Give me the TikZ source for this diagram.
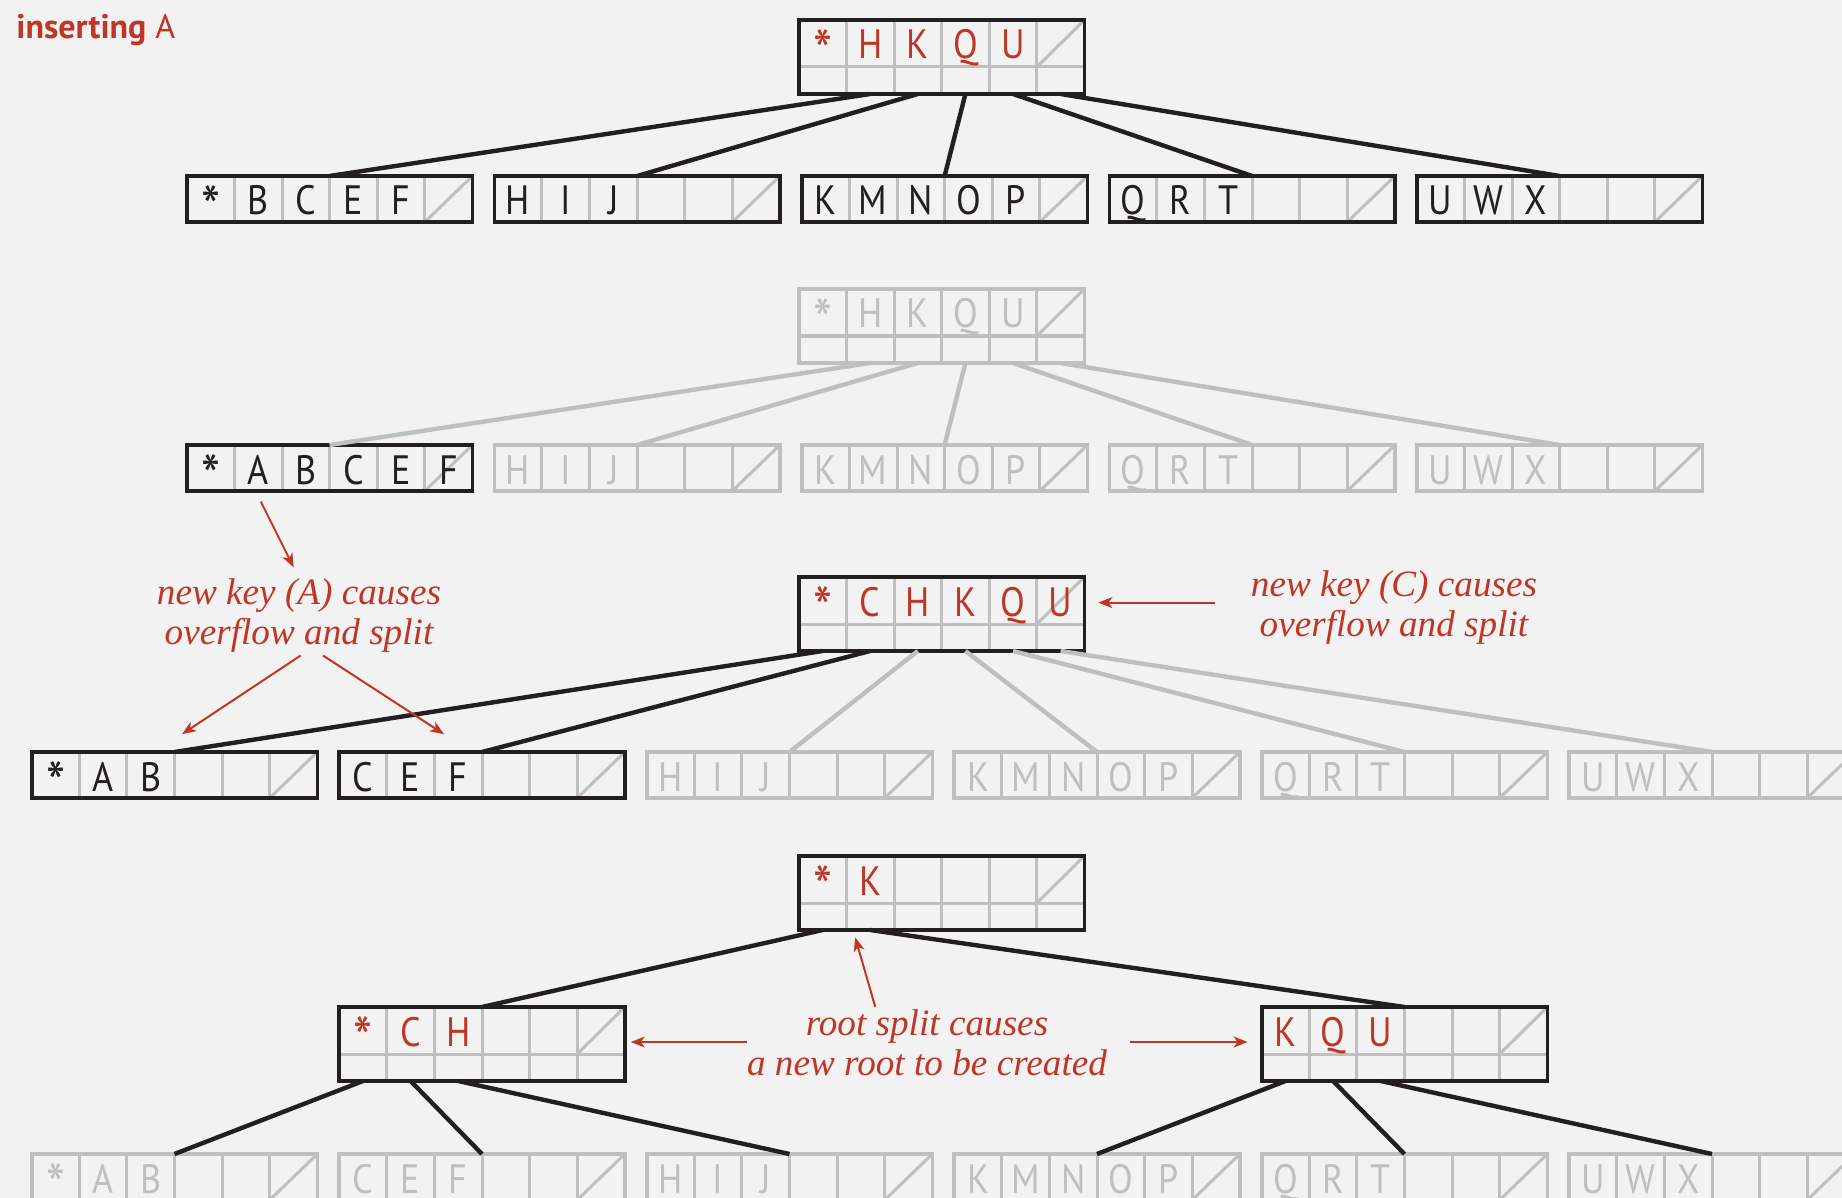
\documentclass[tikz,border=0pt]{standalone}
\usepackage{fontspec}
\usepackage{graphicx}
\setmainfont{Liberation Serif}
\newfontfamily\keyfont[FakeStretch=0.88]{PT Sans}
\newfontfamily\labfont{PT Sans}
\usetikzlibrary{arrows.meta,calc}
\definecolor{bg}{RGB}{242,242,242}
\definecolor{myred}{RGB}{192,54,38}
\definecolor{myblack}{RGB}{35,31,32}
\definecolor{mygrey}{RGB}{190,191,193}
\newcommand\st{\raisebox{-0.36em}{\scalebox{1.5}{*}}}
\tikzset{
  pagebox/.style={draw, line width=1.8pt, inner sep=0pt, outer sep=0pt, minimum width=142.8pt, anchor=north west},
  gridline/.style={draw=mygrey, line width=1.5pt},
  keytext/.style={font=\keyfont\fontsize{20.5}{20.5}\selectfont, inner sep=0pt, anchor=base},
  link/.style={line width=2.2pt},
  blink/.style={link, draw=myblack},
  glink/.style={link, draw=mygrey},
  note/.style={font=\itshape\fontsize{18.6}{20}\selectfont, text=myred, align=center, inner sep=0pt, anchor=base},
  notearrow/.style={draw=myred, line width=1pt, -{Stealth[length=7pt,width=5.5pt,inset=2pt]}}
}
% #1 name, #2 x, #3 y, #4 height px, #5 border colour, #6 text colour, #7 keys
\newcommand\bpage[7]{%
  \node[pagebox, draw=#5, minimum height=#4*0.5pt] (#1) at (#2,#3) {};
  \pgfmathsetmacro\dh{min(#4,47)}%
  \begin{scope}[shift={(#1.north west)}]
    \foreach \i in {1,...,5} \draw[gridline] (\i*47.6,0) -- (\i*47.6,#4);
    \ifnum#4>60 \draw[gridline] (0,47) -- (285.6,47);\fi
    \draw[gridline] (238,\dh) -- (285.6,0);
    \foreach \k [count=\i] in {#7} \node[keytext, text=#6] at ({(\i-0.5)*47.6},39) {\k};
  \end{scope}
  \draw[draw=#5, line width=1.8pt] (#1.north west) rectangle (#1.south east);
  \foreach \i in {1,...,6} \coordinate (#1-\i) at ($(#1.south west)+({(\i-0.5)*47.6},0)$);
}
\begin{document}
\begin{tikzpicture}[x=0.5pt,y=-0.5pt]
\fill[bg] (0,0) rectangle (1842,1198);
\useasboundingbox (0,0) rectangle (1842,1198);
\clip (0,0) rectangle (1842,1198);

\node[anchor=base west, text=myred, font=\labfont\fontsize{17}{17}\selectfont, inner sep=0pt] (title) at (16,39) {\textbf{inserting} A};

% ---- row 1
\bpage{r1}{798.8}{20}{74}{myblack}{myred}{\st,H,K,Q,U}
\bpage{a1}{186.8}{176}{46}{myblack}{myblack}{\st,B,C,E,F}
\bpage{a2}{494.3}{176}{46}{myblack}{myblack}{H,I,J}
\bpage{a3}{801.8}{176}{46}{myblack}{myblack}{K,M,N,O,P}
\bpage{a4}{1109.3}{176}{46}{myblack}{myblack}{Q,R,T}
\bpage{a5}{1416.8}{176}{46}{myblack}{myblack}{U,W,X}
\draw[blink] (r1-2) -- (a1.north);
\draw[blink] (r1-3) -- (a2.north);
\draw[blink] (r1-4) -- (a3.north);
\draw[blink] (r1-5) -- (a4.north);
\draw[blink] (r1-6) -- (a5.north);

% ---- row 2
\bpage{r2}{798.8}{289}{74}{mygrey}{mygrey}{\st,H,K,Q,U}
\bpage{b1}{186.8}{445}{46}{myblack}{myblack}{\st,A,B,C,E,F}
\bpage{b2}{494.3}{445}{46}{mygrey}{mygrey}{H,I,J}
\bpage{b3}{801.8}{445}{46}{mygrey}{mygrey}{K,M,N,O,P}
\bpage{b4}{1109.3}{445}{46}{mygrey}{mygrey}{Q,R,T}
\bpage{b5}{1416.8}{445}{46}{mygrey}{mygrey}{U,W,X}
\draw[glink] (r2-2) -- (b1.north);
\draw[glink] (r2-3) -- (b2.north);
\draw[glink] (r2-4) -- (b3.north);
\draw[glink] (r2-5) -- (b4.north);
\draw[glink] (r2-6) -- (b5.north);

% ---- row 3
\bpage{r3}{798.8}{577}{74}{myblack}{myred}{\st,C,H,K,Q,U}
\bpage{c1}{31.7}{752}{46}{myblack}{myblack}{\st,A,B}
\bpage{c2}{339.2}{752}{46}{myblack}{myblack}{C,E,F}
\bpage{c3}{646.7}{752}{46}{mygrey}{mygrey}{H,I,J}
\bpage{c4}{954.2}{752}{46}{mygrey}{mygrey}{K,M,N,O,P}
\bpage{c5}{1261.7}{752}{46}{mygrey}{mygrey}{Q,R,T}
\bpage{c6}{1569.2}{752}{46}{mygrey}{mygrey}{U,W,X}
\draw[glink] (r3-3) -- (c3.north);
\draw[glink] (r3-4) -- (c4.north);
\draw[glink] (r3-5) -- (c5.north);
\draw[glink] (r3-6) -- (c6.north);
\draw[blink] (r3-1) -- (c1.north);
\draw[blink] (r3-2) -- (c2.north);

% ---- row 4
\bpage{r4}{798.8}{856}{74}{myblack}{myred}{\st,K}
\bpage{m1}{339.2}{1007}{74}{myblack}{myred}{\st,C,H}
\bpage{m2}{1261.7}{1007}{74}{myblack}{myred}{K,Q,U}
\draw[blink] (r4-1) -- (m1.north);
\draw[blink] (r4-2) -- (m2.north);

% ---- row 5
\bpage{d1}{31.7}{1154}{46}{mygrey}{mygrey}{\st,A,B}
\bpage{d2}{339.2}{1154}{46}{mygrey}{mygrey}{C,E,F}
\bpage{d3}{646.7}{1154}{46}{mygrey}{mygrey}{H,I,J}
\bpage{d4}{954.2}{1154}{46}{mygrey}{mygrey}{K,M,N,O,P}
\bpage{d5}{1261.7}{1154}{46}{mygrey}{mygrey}{Q,R,T}
\bpage{d6}{1569.2}{1154}{46}{mygrey}{mygrey}{U,W,X}
\draw[blink] (m1-1) -- (d1.north);
\draw[blink] (m1-2) -- (d2.north);
\draw[blink] (m1-3) -- (d3.north);
\draw[blink] (m2-1) -- (d4.north);
\draw[blink] (m2-2) -- (d5.north);
\draw[blink] (m2-3) -- (d6.north);

% ---- annotations (anchor = baseline of the last line)
\node[note] (n1) at (299,644) {new key (A) causes\\overflow and split};
\node[note] (n2) at (1394,636) {new key (C) causes\\overflow and split};
\node[note] (n3) at (927,1075) {root split causes\\a new root to be created};

\coordinate (p1s) at (260.8,501.6); \coordinate (p1t) at (293.7,567.4);
\coordinate (p2s) at (300.7,655.5); \coordinate (p2t) at (182,734.2);
\coordinate (p3s) at (323,655.5);   \coordinate (p3t) at (444,734.2);
\coordinate (p4s) at (1214.7,602.6); \coordinate (p4t) at (1098.4,602.6);
\coordinate (p5s) at (875.2,1006.7); \coordinate (p5t) at (855.2,937.4);
\coordinate (p6s) at (747.1,1042);  \coordinate (p6t) at (630.8,1042);
\coordinate (p7s) at (1130,1042);   \coordinate (p7t) at (1247.6,1042);
\draw[notearrow] (p1s) -- (p1t);
\draw[notearrow] (p2s) -- (p2t);
\draw[notearrow] (p3s) -- (p3t);
\draw[notearrow] (p4s) -- (p4t);
\draw[notearrow] (p5s) -- (p5t);
\draw[notearrow] (p6s) -- (p6t);
\draw[notearrow] (p7s) -- (p7t);
\end{tikzpicture}
\end{document}
